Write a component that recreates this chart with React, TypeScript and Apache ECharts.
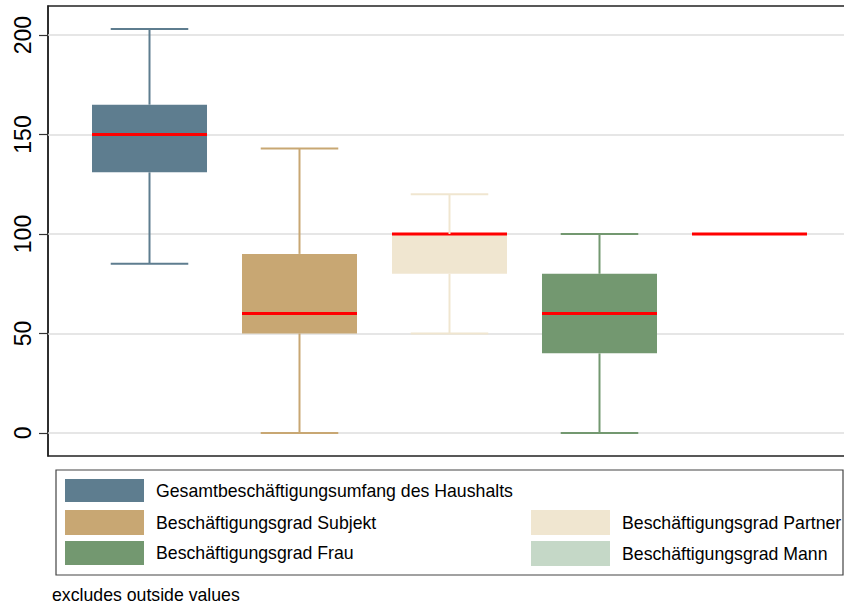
import React, { useEffect, useRef } from "react";
import * as echarts from "echarts";

const categories = [
  "Gesamtbeschäftigungsumfang des Haushalts",
  "Beschäftigungsgrad Subjekt",
  "Beschäftigungsgrad Partner",
  "Beschäftigungsgrad Frau",
  "Beschäftigungsgrad Mann",
];
const whiskerLow = [85, 0, 50, 0, 100];
const q1 = [131, 50, 80, 40, 100];
const median = [150, 60, 100, 60, 100];
const q3 = [165, 90, 100, 80, 100];
const whiskerHigh = [203, 143, 120, 100, 100];
const colors = ["#5e7d8f", "#c8a773", "#f0e6d0", "#739870", "#c5d8c7"];
const yTicks = [0, 50, 100, 150, 200];
const note = "excludes outside values";

const FONT = "'Liberation Sans', Arial, sans-serif";
const CHART_W = 880;

export default function App() {
  const ref = useRef<HTMLDivElement>(null);
  useEffect(() => {
    if (!ref.current) return;
    const chart = echarts.init(ref.current, null, { renderer: "svg" });
    const data = categories.map((_, i) => [
      i + 1,
      whiskerLow[i],
      q1[i],
      median[i],
      q3[i],
      whiskerHigh[i],
    ]);

    const legendSlots = [
      { x: 65, y: 479, h: 23 },
      { x: 65, y: 510, h: 25 },
      { x: 531, y: 510, h: 25 },
      { x: 65, y: 541, h: 24 },
      { x: 531, y: 541, h: 25 },
    ];
    const legendGraphics: any[] = [
      {
        type: "rect",
        shape: { x: 56, y: 470, width: 787, height: 105 },
        style: { fill: "#fff", stroke: "#444", lineWidth: 1.2 },
      },
    ];
    categories.forEach((name, i) => {
      const s = legendSlots[i];
      legendGraphics.push({
        type: "rect",
        shape: { x: s.x, y: s.y, width: 79, height: s.h },
        style: { fill: colors[i] },
      });
      legendGraphics.push({
        type: "text",
        x: s.x + 91,
        y: s.y + s.h / 2,
        style: {
          text: name,
          fill: "#000",
          font: `17.7px ${FONT}`,
          verticalAlign: "middle",
          align: "left",
        },
      });
    });
    legendGraphics.push({
      type: "text",
      x: 52,
      y: 595,
      style: {
        text: note,
        fill: "#000",
        font: `17.7px ${FONT}`,
        verticalAlign: "middle",
        align: "left",
      },
    });

    chart.setOption({
      animation: false,
      backgroundColor: "#fff",
      grid: {
        left: 48,
        top: 6,
        bottom: 149,
        right: CHART_W - 851,
        show: true,
        borderColor: "#222",
        borderWidth: 1.5,
        backgroundColor: "#fff",
      },
      xAxis: {
        type: "value",
        min: 0.3233,
        max: 5.6767,
        axisLine: { show: false },
        axisTick: { show: false },
        axisLabel: { show: false },
        splitLine: { show: false },
      },
      yAxis: {
        type: "value",
        min: -11.6,
        max: 214.6,
        axisLine: { show: true, lineStyle: { color: "#222", width: 1.5 } },
        axisTick: {
          show: true,
          length: 9,
          customValues: yTicks,
          lineStyle: { color: "#333", width: 1.2 },
        },
        axisLabel: {
          show: true,
          customValues: yTicks,
          rotate: 90,
          fontSize: 23,
          fontFamily: FONT,
          color: "#000",
          margin: 14,
        },
        splitLine: { show: false },
      },
      series: [
        {
          type: "line",
          data: [],
          z: 1,
          silent: true,
          markLine: {
            silent: true,
            symbol: "none",
            label: { show: false },
            lineStyle: { color: "#dedede", width: 1.6, type: "solid" },
            data: yTicks.map((v) => ({ yAxis: v })),
          },
        },
        {
          type: "custom",
          z: 5,
          data,
          encode: { x: 0, y: [1, 2, 3, 4, 5] },
          renderItem: (params: any, api: any) => {
            const i = params.dataIndex;
            const x = api.value(0);
            const cx = api.coord([x, 0])[0];
            const yLow = api.coord([x, api.value(1)])[1];
            const yQ1 = api.coord([x, api.value(2)])[1];
            const yMed = api.coord([x, api.value(3)])[1];
            const yQ3 = api.coord([x, api.value(4)])[1];
            const yHigh = api.coord([x, api.value(5)])[1];
            const half = api.size([0.7667, 0])[0] / 2;
            const capHalf = api.size([0.517, 0])[0] / 2;
            const color = colors[i];
            const children: any[] = [];
            children.push({
              type: "rect",
              shape: { x: cx - half, y: yQ3, width: half * 2, height: yQ1 - yQ3 },
              style: { fill: color },
            });
            children.push({
              type: "line",
              shape: { x1: cx - half, y1: yMed, x2: cx + half, y2: yMed },
              style: { stroke: "#ff0000", lineWidth: 3 },
            });
            if (yQ3 - yHigh > 0.5) {
              children.push({
                type: "line",
                shape: { x1: cx, y1: yQ3, x2: cx, y2: yHigh },
                style: { stroke: color, lineWidth: 2 },
              });
              children.push({
                type: "line",
                shape: { x1: cx - capHalf, y1: yHigh, x2: cx + capHalf, y2: yHigh },
                style: { stroke: color, lineWidth: 2 },
              });
            }
            if (yLow - yQ1 > 0.5) {
              children.push({
                type: "line",
                shape: { x1: cx, y1: yQ1, x2: cx, y2: yLow },
                style: { stroke: color, lineWidth: 2 },
              });
              children.push({
                type: "line",
                shape: { x1: cx - capHalf, y1: yLow, x2: cx + capHalf, y2: yLow },
                style: { stroke: color, lineWidth: 2 },
              });
            }
            return { type: "group", children };
          },
        },
      ],
      graphic: legendGraphics,
    });
    return () => chart.dispose();
  }, []);

  return (
    <div
      style={{
        position: "fixed",
        left: 0,
        top: 0,
        width: 844,
        height: 605,
        overflow: "hidden",
        background: "#fff",
      }}
    >
      <div ref={ref} style={{ width: CHART_W, height: 605 }} />
    </div>
  );
}
